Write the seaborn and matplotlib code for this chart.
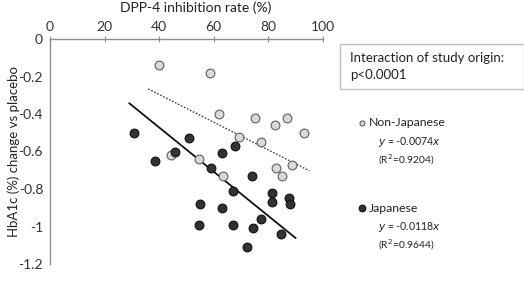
import numpy as np
import pandas as pd
import matplotlib
matplotlib.use("Agg")
import matplotlib.pyplot as plt
from matplotlib.lines import Line2D
import seaborn as sns

# ---- data ----
nonjp_x = [40, 58.6, 62, 75, 86.9, 82.4, 93, 69.3, 77.4, 44.3, 54.7, 63.5, 82.7, 84.9, 88.8]
nonjp_y = [-0.14, -0.18, -0.40, -0.42, -0.42, -0.46, -0.50, -0.52, -0.55, -0.62, -0.64, -0.73, -0.69, -0.73, -0.67]
jp_x = [30.9, 50.9, 38.6, 45.9, 62.9, 67.8, 59, 73.9, 66.9, 81.2, 81.4, 87.6, 87.8, 55, 62.9,
        54.7, 67.2, 74.2, 77.3, 84.5, 72]
jp_y = [-0.50, -0.53, -0.65, -0.60, -0.61, -0.57, -0.69, -0.73, -0.81, -0.82, -0.87, -0.85, -0.88,
        -0.88, -0.90, -0.99, -0.99, -1.01, -0.96, -1.04, -1.11]
groups = ["Non-Japanese", "Japanese"]
slopes = {"Non-Japanese": -0.0074, "Japanese": -0.0118}
r2 = {"Non-Japanese": "0.9204", "Japanese": "0.9644"}
fit_range = {"Non-Japanese": (36, 95), "Japanese": (29, 90)}
x_ticks = [0, 20, 40, 60, 80, 100]
y_ticks = [0, -0.2, -0.4, -0.6, -0.8, -1, -1.2]
y_ticklabels = ["0", "-0.2", "-0.4", "-0.6", "-0.8", "-1", "-1.2"]

df = pd.DataFrame({
    "rate": nonjp_x + jp_x,
    "hba1c": nonjp_y + jp_y,
    "origin": ["Non-Japanese"] * len(nonjp_x) + ["Japanese"] * len(jp_x),
})

sns.set_theme(style="white")
plt.rcParams["font.family"] = ["Lato", "DejaVu Sans"]

W, H = 524, 281
fig = plt.figure(figsize=(W / 100, H / 100), dpi=100)
ax = fig.add_axes([50 / W, 1 - 264 / H, (323 - 50) / W, (264 - 39) / H])

palette = {"Non-Japanese": "#d9d9d9", "Japanese": "#333333"}
edges = {"Non-Japanese": "#606060", "Japanese": "#111111"}
for g in groups:
    sub = df[df.origin == g]
    sns.scatterplot(data=sub, x="rate", y="hba1c", color=palette[g], edgecolor=edges[g],
                    linewidth=0.8, s=40, ax=ax, legend=False, zorder=3)

xs = {g: np.array(fit_range[g]) for g in groups}
ax.plot(xs["Non-Japanese"], slopes["Non-Japanese"] * xs["Non-Japanese"], color="#444444",
        lw=1.0, ls=(0, (1.2, 1.2)), zorder=2)
ax.plot(xs["Japanese"], slopes["Japanese"] * xs["Japanese"], color="#111111", lw=1.3, zorder=2)

ax.set_xlim(0, 100)
ax.set_ylim(-1.2, 0)
ax.set_xticks(x_ticks)
ax.set_yticks(y_ticks)
ax.set_yticklabels(y_ticklabels)
ax.xaxis.tick_top()
ax.xaxis.set_label_position("top")
for side in ["right", "bottom"]:
    ax.spines[side].set_visible(False)
for side in ["left", "top"]:
    ax.spines[side].set_color("#8c8c8c")
    ax.spines[side].set_linewidth(1.0)
ax.tick_params(axis="both", which="both", length=3, width=0.8, color="#8c8c8c",
               labelsize=10, labelcolor="#333333", pad=2)
ax.tick_params(axis="x", direction="inout", length=5)
ax.tick_params(axis="y", direction="out")
ax.set_xlabel("DPP-4 inhibition rate (%)", fontsize=10, color="#222222", va="center")
ax.xaxis.set_label_coords((196 - 50) / (323 - 50), 1 + (39 - 8) / 225)
ax.set_ylabel("HbA1c (%) change vs placebo", fontsize=9.5, color="#222222", va="center")
ax.yaxis.set_label_coords(-(50 - 14) / 273, 0.5)

# annotation box
box = plt.Rectangle((340 / W, 1 - 89 / H), (W - 340) / W, 45 / H, transform=fig.transFigure,
                    facecolor="white", edgecolor="#bfbfbf", lw=1.0)
fig.add_artist(box)
fig.text(350 / W, 1 - 58 / H, "Interaction of study origin:", fontsize=9.5, va="center",
         color="#222222")
fig.text(350 / W, 1 - 75 / H, "p<0.0001", fontsize=9.5, va="center", color="#222222")

# legend-like texts
ys_leg = {"Non-Japanese": 123, "Japanese": 208}
msize = {"Non-Japanese": 3.6, "Japanese": 4.8}
for g in groups:
    y0 = ys_leg[g]
    fig.add_artist(Line2D([362 / W], [1 - y0 / H], marker="o", ms=msize[g], color="none",
                          markerfacecolor=palette[g], markeredgecolor=edges[g], mew=0.8,
                          transform=fig.transFigure))
    fig.text(369 / W, 1 - y0 / H, g, fontsize=8.8, va="center", color="#222222")
    fig.text(378 / W, 1 - (y0 + 19) / H, f"$y$ = {slopes[g]:.4f}$x$", fontsize=7.6,
             va="center", color="#222222")
    fig.text(378 / W, 1 - (y0 + 37) / H, f"(R$^2$={r2[g]})", fontsize=7.4, va="center",
             color="#222222")

fig.savefig("out.png", dpi=100)
